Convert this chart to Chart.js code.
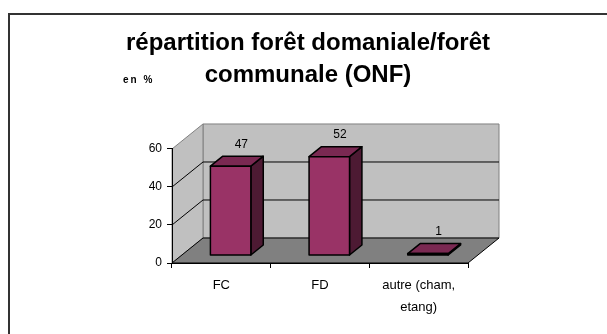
<!DOCTYPE html>
<html>
<head>
<meta charset="utf-8">
<script src="https://cdn.jsdelivr.net/npm/chart.js@4/dist/chart.umd.min.js"></script>
<style>
  body { margin: 0; background: #fff; }
</style>
</head>
<body>
<canvas id="repartitionChart" width="607" height="334"></canvas>
<script>
const categories = ["FC", "FD", ["autre (cham,", "etang)"]];
const values = [47, 52, 1];
const yTicks = [0, 20, 40, 60];

// how far the back wall sits behind the front plane
const DX = 31;
const DY = 25;
// bars stand between these fractions of the depth
const BAR_FRONT = 0.3;
const BAR_BACK = 0.7;

Chart.defaults.font.family = "'Liberation Sans', Arial, sans-serif";
Chart.defaults.color = "#000";

function poly(ctx, pts, fill) {
  ctx.beginPath();
  ctx.moveTo(pts[0][0], pts[0][1]);
  for (let k = 1; k < pts.length; k++) ctx.lineTo(pts[k][0], pts[k][1]);
  ctx.closePath();
  if (fill) {
    ctx.fillStyle = fill;
    ctx.fill();
  }
  ctx.stroke();
}

// frame, walls, floor and gridlines, under the axes
const walls3d = {
  id: "walls3d",
  beforeDraw(chart) {
    const { ctx, chartArea: a } = chart;
    const yScale = chart.scales.y;
    ctx.save();

    ctx.strokeStyle = "#333";
    ctx.lineWidth = 2;
    ctx.strokeRect(9, 14, 640, 360);

    ctx.lineWidth = 1;
    ctx.strokeStyle = "#808080";
    // back wall
    poly(ctx, [[a.left + DX, a.top - DY], [a.right + DX, a.top - DY],
               [a.right + DX, a.bottom - DY], [a.left + DX, a.bottom - DY]], "#c0c0c0");
    // side wall
    poly(ctx, [[a.left, a.top], [a.left + DX, a.top - DY],
               [a.left + DX, a.bottom - DY], [a.left, a.bottom]], "#c0c0c0");
    // floor
    ctx.strokeStyle = "#000";
    poly(ctx, [[a.left, a.bottom], [a.left + DX, a.bottom - DY],
               [a.right + DX, a.bottom - DY], [a.right, a.bottom]], "#808080");

    ctx.strokeStyle = "#000";
    yTicks.slice(1, -1).forEach(v => {
      const py = yScale.getPixelForValue(v);
      ctx.beginPath();
      ctx.moveTo(a.left, py);
      ctx.lineTo(a.left + DX, py - DY);
      ctx.lineTo(a.right + DX, py - DY);
      ctx.stroke();
    });

    ctx.fillStyle = "#000";
    ctx.font = "bold 10px 'Liberation Sans', Arial, sans-serif";
    ctx.letterSpacing = "2px";
    ctx.textBaseline = "alphabetic";
    ctx.fillText("en %", 123, 83);
    ctx.restore();
  }
};

// prisms built on the bar elements laid out by the chart
const bars3d = {
  id: "bars3d",
  afterDatasetsDraw(chart) {
    const ctx = chart.ctx;
    const meta = chart.getDatasetMeta(0);
    const data = chart.data.datasets[0].data;
    const ddx = (BAR_BACK - BAR_FRONT) * DX;
    const ddy = (BAR_BACK - BAR_FRONT) * DY;
    ctx.save();
    ctx.strokeStyle = "#000";
    ctx.lineWidth = 1.5;
    ctx.lineJoin = "round";
    meta.data.forEach((bar, i) => {
      const { x, y, base, width } = bar.getProps(["x", "y", "base", "width"], true);
      const x0 = x - width / 2 + BAR_FRONT * DX;
      const x1 = x + width / 2 + BAR_FRONT * DX;
      const top = y - BAR_FRONT * DY;
      const bottom = base - BAR_FRONT * DY;
      poly(ctx, [[x1, top], [x1 + ddx, top - ddy], [x1 + ddx, bottom - ddy], [x1, bottom]], "#4d1a33");
      poly(ctx, [[x0, top], [x1, top], [x1 + ddx, top - ddy], [x0 + ddx, top - ddy]], "#7a2952");
      poly(ctx, [[x0, top], [x1, top], [x1, bottom], [x0, bottom]], "#993366");

      ctx.fillStyle = "#000";
      ctx.font = "12px 'Liberation Sans', Arial, sans-serif";
      ctx.textAlign = "center";
      ctx.textBaseline = "middle";
      ctx.fillText(String(data[i]), x + 20, y - 29);
    });
    ctx.restore();
  }
};

const ctx = document.getElementById("repartitionChart");
const repartitionChart = new Chart(ctx, {
  type: "bar",
  data: {
    labels: categories,
    datasets: [
      {
        data: values,
        backgroundColor: "rgba(0,0,0,0)",
        borderWidth: 0,
        categoryPercentage: 1,
        barPercentage: 0.41,
      },
    ],
  },
  options: {
    responsive: false,
    animation: false,
    layout: {
      padding: { left: 124, right: 115, top: 0, bottom: 0 },
    },
    plugins: {
      legend: { display: false },
      tooltip: { enabled: false },
      title: {
        display: true,
        text: ["répartition forêt domaniale/forêt", "communale (ONF)"],
        color: "#000",
        font: { size: 24, weight: "bold", lineHeight: 1.333 },
        padding: { top: 27.5, bottom: 57.5 },
      },
    },
    scales: {
      x: {
        grid: { drawOnChartArea: false, tickLength: 5, color: "#000" },
        border: { color: "#000" },
        ticks: {
          padding: 6,
          maxRotation: 0,
          font: { size: 13, lineHeight: 1.7 },
        },
        afterFit(scale) {
          scale.height = 71;
        },
      },
      y: {
        min: 0,
        max: 60,
        grid: { drawOnChartArea: false, tickLength: 5, color: "#000" },
        border: { color: "#000" },
        ticks: { padding: 5, font: { size: 12 } },
        afterBuildTicks(scale) {
          scale.ticks = yTicks.map(v => ({ value: v }));
        },
        afterFit(scale) {
          scale.width = 48;
        },
      },
      // empty right-hand axis: keeps room for the depth of the back wall
      spacer: {
        type: "linear",
        position: "right",
        grid: { display: false },
        border: { display: false },
        ticks: { display: false },
        afterFit(scale) {
          scale.width = 24;
        },
      },
    },
  },
  plugins: [walls3d, bars3d],
});
</script>
</body>
</html>
